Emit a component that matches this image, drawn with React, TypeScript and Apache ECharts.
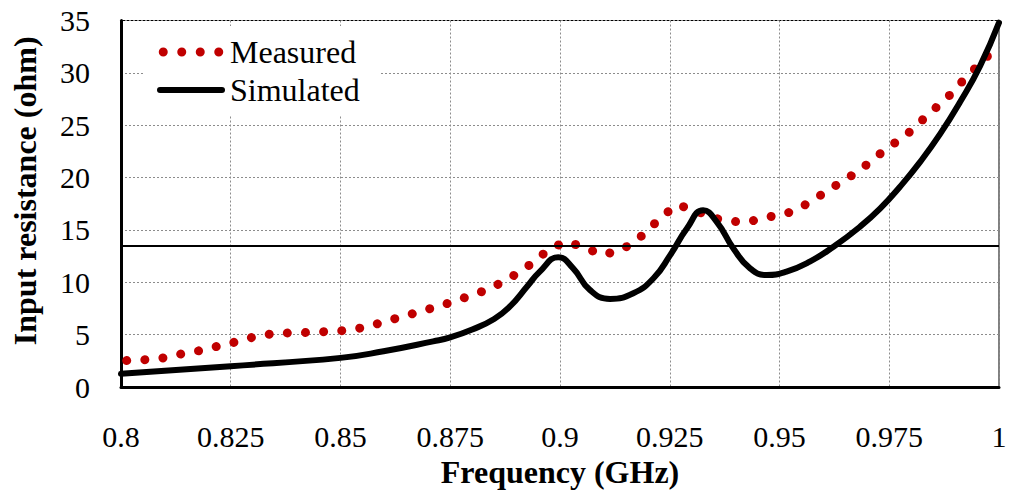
import React, { useEffect, useRef } from "react";
import * as echarts from "echarts";

const measuredFreq = [0.8013, 0.8055, 0.8096, 0.8138, 0.8179, 0.822, 0.8261, 0.8302, 0.8344, 0.8385, 0.8428, 0.8471, 0.8512, 0.8554, 0.8595, 0.8636, 0.8677, 0.8717, 0.8758, 0.8797, 0.8837, 0.8875, 0.891, 0.8945, 0.8977, 0.9015, 0.9056, 0.9094, 0.9134, 0.9171, 0.9202, 0.9232, 0.9266, 0.9306, 0.9344, 0.9386, 0.9427, 0.9469, 0.951, 0.9548, 0.9585, 0.962, 0.9654, 0.9689, 0.9721, 0.9754, 0.9789, 0.982, 0.9851, 0.9882, 0.9911, 0.9939, 0.997, 0.9997];
const measuredValues = [2.53, 2.62, 2.79, 3.17, 3.48, 3.9, 4.31, 4.78, 5.09, 5.18, 5.22, 5.31, 5.41, 5.7, 6.17, 6.68, 7.15, 7.65, 8.16, 8.76, 9.33, 10.17, 11.03, 12.1, 13.24, 13.88, 13.34, 12.64, 12.98, 13.88, 15.05, 16.28, 17.4, 16.92, 16.19, 15.84, 15.74, 16.22, 16.47, 17.14, 18.09, 19.04, 19.9, 20.91, 22.02, 23.06, 24.08, 25.29, 26.48, 27.62, 28.95, 30.16, 31.4, 32.79];

const simulatedFreq = [0.8, 0.825, 0.85, 0.8598, 0.8711, 0.875, 0.88, 0.885, 0.8886, 0.8925, 0.8954, 0.8996, 0.903, 0.9068, 0.9114, 0.9167, 0.9213, 0.9251, 0.9289, 0.9326, 0.9357, 0.9395, 0.9433, 0.9471, 0.9516, 0.9569, 0.9623, 0.9683, 0.9729, 0.9774, 0.982, 0.9866, 0.9911, 0.9957, 1.0];
const simulatedValues = [1.27, 2.0, 2.79, 3.42, 4.37, 4.75, 5.5, 6.5, 7.7, 9.6, 11.03, 12.39, 11.34, 9.28, 8.42, 8.96, 10.39, 12.6, 15.14, 16.88, 15.78, 13.24, 11.34, 10.7, 11.03, 11.98, 13.4, 15.3, 17.04, 19.11, 21.48, 24.17, 27.19, 30.67, 34.79];

const referenceLevel = 13.5;
const seriesNames = ["Measured", "Simulated"];
const xTitle = "Frequency (GHz)";
const yTitle = "Input resistance (ohm)";

const FONT = '"Times New Roman", "Liberation Serif", serif';
const RED = "#C00000";

const dotsIcon =
  "path://M0,4.5a4.5,4.5 0 1,0 9,0a4.5,4.5 0 1,0 -9,0Z" +
  "M18.5,4.5a4.5,4.5 0 1,0 9,0a4.5,4.5 0 1,0 -9,0Z" +
  "M37,4.5a4.5,4.5 0 1,0 9,0a4.5,4.5 0 1,0 -9,0Z" +
  "M55.5,4.5a4.5,4.5 0 1,0 9,0a4.5,4.5 0 1,0 -9,0Z";
const lineIcon = "path://M3,0L65,0A3,3 0 0,1 65,6L3,6A3,3 0 0,1 3,0Z";

export default function App() {
  const ref = useRef<HTMLDivElement>(null);
  useEffect(() => {
    document.body.style.margin = "0";
    const chart = echarts.init(ref.current!, undefined, { renderer: "svg" });
    chart.setOption({
      animation: false,
      backgroundColor: "#fff",
      textStyle: { fontFamily: FONT },
      grid: {
        left: 121,
        right: 11,
        top: 20.5,
        bottom: 104,
        show: true,
        borderColor: "#000",
        borderWidth: 1,
      },
      legend: {
        orient: "vertical",
        left: 145,
        top: 26,
        width: 233,
        padding: [10, 20, 10, 12],
        backgroundColor: "#fff",
        itemGap: 6,
        itemWidth: 68,
        itemHeight: 9,
        textStyle: { fontFamily: FONT, fontSize: 32, color: "#000", lineHeight: 32, padding: [0, 0, 0, 0] },
        data: [
          { name: seriesNames[0], icon: dotsIcon, itemStyle: { color: RED } },
          { name: seriesNames[1], icon: lineIcon, itemStyle: { color: "#000" } },
        ],
      },
      xAxis: {
        type: "value",
        min: 0.8,
        max: 1,
        interval: 0.025,
        name: xTitle,
        nameLocation: "middle",
        nameGap: 60,
        nameTextStyle: { fontFamily: FONT, fontSize: 32, fontWeight: "bold", color: "#000" },
        axisLine: { show: true, onZero: false, lineStyle: { color: "#000", width: 3 } },
        axisTick: { show: false },
        axisLabel: { fontFamily: FONT, fontSize: 30, color: "#000", margin: 34 },
        splitLine: { show: true, lineStyle: { color: "#8c8c8c", type: [2, 2], width: 1 } },
      },
      yAxis: {
        type: "value",
        min: 0,
        max: 35,
        interval: 5,
        name: yTitle,
        nameLocation: "middle",
        nameGap: 80,
        nameTextStyle: { fontFamily: FONT, fontSize: 32, fontWeight: "bold", color: "#000", padding: [0, 0, 0, 26] },
        axisLine: { show: true, lineStyle: { color: "#000", width: 3 } },
        axisTick: { show: false },
        axisLabel: { fontFamily: FONT, fontSize: 30, color: "#000", margin: 31 },
        splitLine: { show: true, lineStyle: { color: "#8c8c8c", type: [2, 2], width: 1 } },
      },
      series: [
        {
          name: seriesNames[0],
          type: "line",
          data: measuredFreq.map((f, i) => [f, measuredValues[i]]),
          showSymbol: false,
          symbol: "none",
          color: RED,
          lineStyle: { color: RED, width: 9, type: [0.01, 18.15], cap: "round" },
          z: 2,
        },
        {
          name: seriesNames[1],
          type: "line",
          data: simulatedFreq.map((f, i) => [f, simulatedValues[i]]),
          showSymbol: false,
          symbol: "none",
          smooth: 0.5,
          color: "#000",
          lineStyle: { color: "#000", width: 6, cap: "round", join: "round" },
          z: 3,
          markLine: {
            silent: true,
            symbol: "none",
            label: { show: false },
            lineStyle: { color: "#000", width: 2, type: "solid" },
            data: [{ yAxis: referenceLevel }],
          },
        },
      ],
    });
    return () => chart.dispose();
  }, []);
  return <div ref={ref} style={{ position: "absolute", left: 0, top: 0, width: 1010, height: 493 }} />;
}
